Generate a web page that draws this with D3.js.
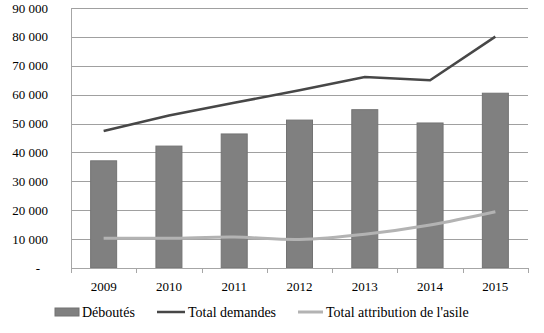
<!DOCTYPE html>
<meta charset="utf-8">
<html>
<head>
<script src="https://d3js.org/d3.v7.min.js"></script>
<style>
  body { margin: 0; background: #fff; }
  svg text { font-family: "Liberation Serif", "Times New Roman", Times, serif; font-size: 13px; fill: #000; }
  svg text.legend { font-size: 14px; }
</style>
</head>
<body>
<script>
// chart data
var years = ["2009", "2010", "2011", "2012", "2013", "2014", "2015"];
var deboutes = [37100, 42200, 46400, 51200, 54800, 50200, 60500];
var totalDemandes = [47400, 52800, 57200, 61500, 66100, 65000, 80100];
var totalAsile = [10300, 10300, 10700, 9900, 11700, 14900, 19500];
var yTicks = [0, 10000, 20000, 30000, 40000, 50000, 60000, 70000, 80000, 90000];

var width = 544, height = 333;
var plotLeft = 71, plotRight = 528, plotTop = 8, plotBottom = 268;

var svg = d3.select("body").append("svg")
  .attr("width", width)
  .attr("height", height);

var x = d3.scaleBand().domain(years).range([plotLeft, plotRight]);
var y = d3.scaleLinear().domain([0, 90000]).range([plotBottom, plotTop]);

// gridlines
svg.append("g")
  .selectAll("line")
  .data(yTicks.slice(1))
  .enter().append("line")
  .attr("x1", plotLeft).attr("x2", plotRight)
  .attr("y1", function(d) { return Math.round(y(d)) + 0.5; })
  .attr("y2", function(d) { return Math.round(y(d)) + 0.5; })
  .style("stroke", "#a0a0a0");

// y labels
svg.append("g")
  .selectAll("text")
  .data(yTicks)
  .enter().append("text")
  .attr("x", function(d) { return d === 0 ? 40 : 48; })
  .attr("y", function(d) { return y(d); })
  .attr("dy", "0.35em")
  .attr("text-anchor", "end")
  .text(function(d) { return d === 0 ? "-" : d3.format(",")(d).replace(",", " "); });

// bars
var bw = 26;
svg.append("g")
  .selectAll("rect")
  .data(deboutes)
  .enter().append("rect")
  .attr("x", function(d, i) { return x(years[i]) + x.bandwidth() / 2 - bw / 2; })
  .attr("y", function(d) { return y(d); })
  .attr("width", bw)
  .attr("height", function(d) { return y(0) - y(d); })
  .style("fill", "#808080")
  .style("stroke", "#737373")
  .style("stroke-width", 1);

// axes lines
svg.append("line")
  .attr("x1", plotLeft + 0.5).attr("x2", plotLeft + 0.5)
  .attr("y1", plotTop).attr("y2", plotBottom + 5)
  .style("stroke", "#a6a6a6");
svg.append("line")
  .attr("x1", plotLeft).attr("x2", plotRight)
  .attr("y1", plotBottom + 0.5).attr("y2", plotBottom + 0.5)
  .style("stroke", "#a6a6a6");
svg.append("g")
  .selectAll("line")
  .data(years)
  .enter().append("line")
  .attr("x1", function(d) { return Math.round(x(d) + x.bandwidth()) + 0.5; })
  .attr("x2", function(d) { return Math.round(x(d) + x.bandwidth()) + 0.5; })
  .attr("y1", plotBottom).attr("y2", plotBottom + 5)
  .style("stroke", "#a6a6a6");

// x labels
svg.append("g")
  .selectAll("text")
  .data(years)
  .enter().append("text")
  .attr("x", function(d) { return x(d) + x.bandwidth() / 2; })
  .attr("y", 286)
  .attr("dy", "0.35em")
  .attr("text-anchor", "middle")
  .text(function(d) { return d; });

var cx = function(d, i) { return x(years[i]) + x.bandwidth() / 2; };

// total demandes line
svg.append("path")
  .datum(totalDemandes)
  .attr("d", d3.line().x(cx).y(function(d) { return y(d); }))
  .style("fill", "none")
  .style("stroke", "#474747")
  .style("stroke-width", 2.5);

// asylum line, smoothed
svg.append("path")
  .datum(totalAsile)
  .attr("d", d3.line().x(cx).y(function(d) { return y(d); }).curve(d3.curveCatmullRom))
  .style("fill", "none")
  .style("stroke", "#b3b3b3")
  .style("stroke-width", 3);

// legend
var ly = 312;
svg.append("rect")
  .attr("x", 55).attr("y", ly - 4).attr("width", 24).attr("height", 8)
  .style("fill", "#808080").style("stroke", "#737373");
svg.append("text").attr("class", "legend").attr("x", 82).attr("y", ly).attr("dy", "0.35em").text("Déboutés");
svg.append("line")
  .attr("x1", 157).attr("x2", 185).attr("y1", ly).attr("y2", ly)
  .style("stroke", "#474747").style("stroke-width", 2.5);
svg.append("text").attr("class", "legend").attr("x", 188).attr("y", ly).attr("dy", "0.35em").text("Total demandes");
svg.append("line")
  .attr("x1", 298).attr("x2", 323).attr("y1", ly).attr("y2", ly)
  .style("stroke", "#b3b3b3").style("stroke-width", 3);
svg.append("text").attr("class", "legend").attr("x", 326).attr("y", ly).attr("dy", "0.35em").text("Total attribution de l'asile");
</script>
</body>
</html>
